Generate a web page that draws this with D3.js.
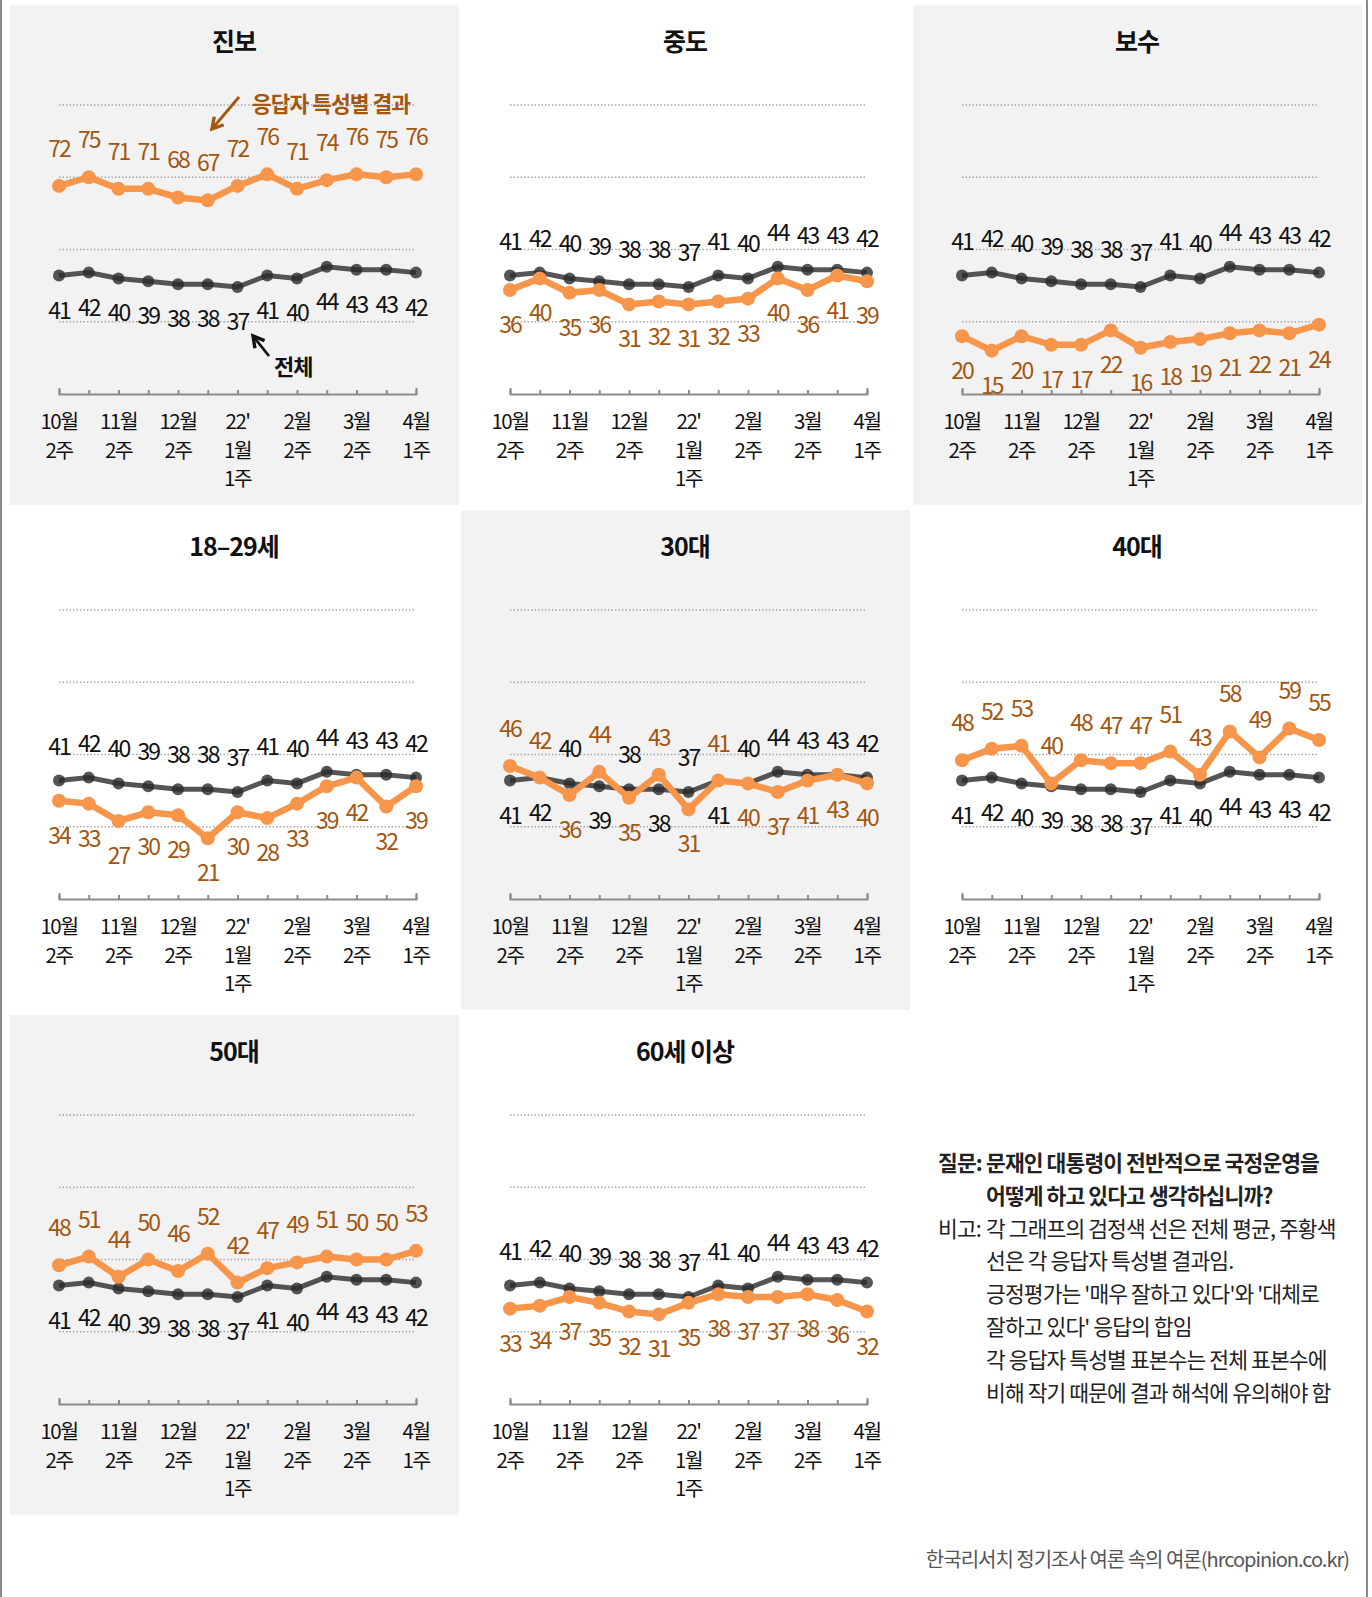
<!DOCTYPE html>
<html>
<head>
<meta charset="utf-8">
<script src="https://d3js.org/d3.v7.min.js"></script>
<style>
  body { margin: 0; background: #fff; }
  svg text { font-family: "Noto Sans CJK KR", "Noto Sans", sans-serif; }
</style>
</head>
<body>
<svg id="viz"></svg>
<script>
// x tick labels, one per survey week ("" = tick without label, "|" = line break)
var tickLabels = ["10월|2주", "", "11월|2주", "", "12월|2주", "", "22'|1월|1주", "", "2월|2주", "", "3월|2주", "", "4월|1주"];

// black line: whole sample
var total = [41, 42, 40, 39, 38, 38, 37, 41, 40, 44, 43, 43, 42];

// orange line: each respondent group
var groupNames = ["진보", "중도", "보수", "18–29세", "30대", "40대", "50대", "60세 이상"];
var jinbo   = [72, 75, 71, 71, 68, 67, 72, 76, 71, 74, 76, 75, 76];
var jungdo  = [36, 40, 35, 36, 31, 32, 31, 32, 33, 40, 36, 41, 39];
var bosu    = [20, 15, 20, 17, 17, 22, 16, 18, 19, 21, 22, 21, 24];
var age1829 = [34, 33, 27, 30, 29, 21, 30, 28, 33, 39, 42, 32, 39];
var age30   = [46, 42, 36, 44, 35, 43, 31, 41, 40, 37, 41, 43, 40];
var age40   = [48, 52, 53, 40, 48, 47, 47, 51, 43, 58, 49, 59, 55];
var age50   = [48, 51, 44, 50, 46, 52, 42, 47, 49, 51, 50, 50, 53];
var age60   = [33, 34, 37, 35, 32, 31, 35, 38, 37, 37, 38, 36, 32];
var groupValues = [jinbo, jungdo, bosu, age1829, age30, age40, age50, age60];

var gridValues = [25, 50, 75, 100];

// where both lines are equal, which points put the orange label on top
var tieAbove = { "30대": [1, 7] };

var noteLines = [
  ["질문:", "문재인 대통령이 전반적으로 국정운영을", true],
  ["", "어떻게 하고 있다고 생각하십니까?", true],
  ["비고:", "각 그래프의 검정색 선은 전체 평균, 주황색", false],
  ["", "선은 각 응답자 특성별 결과임.", false],
  ["", "긍정평가는 '매우 잘하고 있다'와 '대체로", false],
  ["", "잘하고 있다' 응답의 합임", false],
  ["", "각 응답자 특성별 표본수는 전체 표본수에", false],
  ["", "비해 작기 때문에 결과 해석에 유의해야 함", false]
];
var sourceText = "한국리서치 정기조사 여론 속의 여론(hrcopinion.co.kr)";

var width = 1372, height = 1597;
var orange = "#f7964a", orangeText = "#a3560f", dark = "#2b2b2b";

var svg = d3.select("#viz").attr("width", width).attr("height", height);

var panelW = 449, panelH = 500;
var colX = [10, 461, 913], rowY = [5, 510, 1015];

var x = d3.scalePoint().domain(d3.range(tickLabels.length)).range([49, 406]);
var y = d3.scaleLinear().domain([0, 100]).range([389, 100]);

var line = d3.line().x(function (d, i) { return x(i); }).y(function (d) { return y(d); });

// panel backgrounds (checkerboard)
for (var r = 0; r < 3; r++) {
  for (var c = 0; c < 3; c++) {
    if ((r + c) % 2 === 0 && !(r === 2 && c === 2)) {
      svg.append("rect")
        .attr("x", colX[c]).attr("y", rowY[r])
        .attr("width", panelW).attr("height", panelH)
        .attr("fill", "#f2f2f2");
    }
  }
}

// outer side borders
svg.append("line").attr("x1", 1).attr("x2", 1).attr("y1", 0).attr("y2", height)
  .attr("stroke", "#8a8a8a").attr("stroke-width", 2);
svg.append("line").attr("x1", 1367).attr("x2", 1367).attr("y1", 0).attr("y2", height)
  .attr("stroke", "#8a8a8a").attr("stroke-width", 2);

groupNames.forEach(function (name, k) {
  var vals = groupValues[k];
  var g = svg.append("g")
    .attr("transform", "translate(" + colX[k % 3] + "," + rowY[Math.floor(k / 3)] + ")");

  g.append("text")
    .attr("x", 224).attr("y", 46)
    .attr("text-anchor", "middle")
    .style("font-size", "25px").style("font-weight", "bold")
    .style("letter-spacing", "-1px")
    .attr("fill", "#111")
    .text(name);

  // dotted grid
  g.selectAll(".grid").data(gridValues).enter()
    .append("line")
    .attr("x1", 49).attr("x2", 406)
    .attr("y1", function (d) { return y(d); }).attr("y2", function (d) { return y(d); })
    .attr("stroke", "#a8a8a8").attr("stroke-width", 1.3)
    .attr("stroke-dasharray", "1.5,2");

  // x axis, ticks pointing up
  var ax = g.append("g").attr("transform", "translate(0," + y(0) + ")")
    .call(d3.axisBottom(x).tickSizeInner(-4).tickSizeOuter(-6).tickFormat(""));
  ax.selectAll("path, line").attr("stroke", "#8c8c8c").attr("stroke-width", 2);
  ax.selectAll("text").remove();

  var lab = g.selectAll(".xl").data(tickLabels).enter()
    .filter(function (d) { return d !== ""; })
    .append("text")
    .attr("text-anchor", "middle")
    .style("font-size", "20.5px").style("letter-spacing", "-1.5px")
    .attr("fill", "#111");
  lab.each(function (d, j) {
    var i = tickLabels.indexOf(d);
    var t = d3.select(this);
    d.split("|").forEach(function (s, n) {
      t.append("tspan").attr("x", x(i)).attr("y", 424 + n * 28.5).text(s);
    });
  });

  // whole-sample line
  g.append("path").datum(total)
    .attr("d", line).attr("fill", "none")
    .attr("stroke", dark).attr("stroke-width", 5).attr("opacity", 0.8);
  g.selectAll(".dt").data(total).enter().append("circle")
    .attr("cx", function (d, i) { return x(i); }).attr("cy", function (d) { return y(d); })
    .attr("r", 6).attr("fill", dark).attr("opacity", 0.8);

  // group line
  g.append("path").datum(vals)
    .attr("d", line).attr("fill", "none")
    .attr("stroke", orange).attr("stroke-width", 6.5);
  g.selectAll(".do").data(vals).enter().append("circle")
    .attr("cx", function (d, i) { return x(i); }).attr("cy", function (d) { return y(d); })
    .attr("r", 7).attr("fill", orange);

  var ties = tieAbove[name] || [];
  function orangeUp(i) {
    return vals[i] > total[i] || (vals[i] === total[i] && ties.indexOf(i) >= 0);
  }

  g.selectAll(".lt").data(total).enter().append("text")
    .attr("x", function (d, i) { return x(i); })
    .attr("y", function (d, i) { return orangeUp(i) ? y(d) + 43 : y(d) - 26; })
    .attr("text-anchor", "middle")
    .style("font-size", "23px").style("letter-spacing", "-2px")
    .attr("fill", "#111")
    .text(function (d) { return d; });

  g.selectAll(".lo").data(vals).enter().append("text")
    .attr("x", function (d, i) { return x(i); })
    .attr("y", function (d, i) { return orangeUp(i) ? y(d) - 29 : y(d) + 43; })
    .attr("text-anchor", "middle")
    .style("font-size", "23px").style("letter-spacing", "-2px")
    .attr("fill", orangeText)
    .text(function (d) { return d; });

  if (k === 0) {
    // callouts
    var defs = svg.append("defs");
    [["ah-o", orangeText], ["ah-k", "#111"]].forEach(function (m) {
      defs.append("marker").attr("id", m[0])
        .attr("viewBox", "0 0 10 10").attr("refX", 8).attr("refY", 5)
        .attr("markerWidth", 5.5).attr("markerHeight", 5.5).attr("orient", "auto")
        .append("path").attr("d", "M1,1 L8,5 L1,9")
        .attr("fill", "none").attr("stroke", m[1]).attr("stroke-width", 2.2);
    });
    g.append("line").attr("x1", 229).attr("y1", 92).attr("x2", 202).attr("y2", 124)
      .attr("stroke", orangeText).attr("stroke-width", 2.8).attr("marker-end", "url(#ah-o)");
    g.append("text").attr("x", 242).attr("y", 107)
      .style("font-size", "21.5px").style("font-weight", "bold").style("letter-spacing", "-1px")
      .attr("fill", orangeText).text("응답자 특성별 결과");
    g.append("line").attr("x1", 259).attr("y1", 351).attr("x2", 243).attr("y2", 331)
      .attr("stroke", "#111").attr("stroke-width", 2.8).attr("marker-end", "url(#ah-k)");
    g.append("text").attr("x", 264).attr("y", 370)
      .style("font-size", "22px").style("font-weight", "bold").style("letter-spacing", "-1px")
      .attr("fill", "#111").text("전체");
  }
});

// question and notes
var notes = svg.append("g");
noteLines.forEach(function (l, i) {
  var yy = 1171 + i * 32.8;
  var st = { "font-size": "21.5px", "letter-spacing": "-0.9px", "font-weight": l[2] ? "bold" : "normal" };
  if (l[0]) {
    var t0 = notes.append("text").attr("x", 938).attr("y", yy).attr("fill", "#222").text(l[0]);
    for (var s in st) t0.style(s, st[s]);
  }
  var t1 = notes.append("text").attr("x", 986).attr("y", yy).attr("fill", "#222").text(l[1]);
  for (var s2 in st) t1.style(s2, st[s2]);
});

svg.append("text")
  .attr("x", 1349).attr("y", 1567)
  .attr("text-anchor", "end")
  .style("font-size", "20px").style("letter-spacing", "-1px")
  .attr("fill", "#555")
  .text(sourceText);
</script>
</body>
</html>
